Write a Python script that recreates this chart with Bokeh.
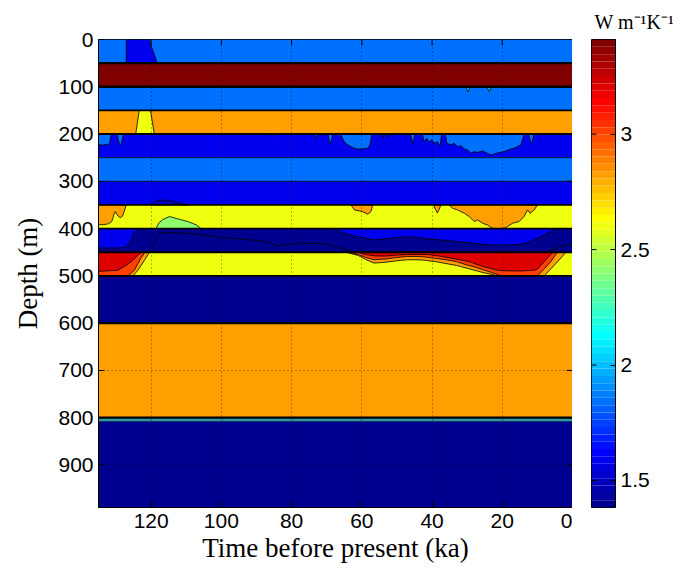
import numpy as np
from bokeh.plotting import figure
from bokeh.models import ColumnDataSource, LinearColorMapper, Range1d, FixedTicker
from bokeh.transform import transform
from bokeh.layouts import row
from bokeh.embed import file_html
from bokeh.resources import INLINE

# ---------------------------------------------------------------------------
# Thermal conductivity (W m^-1 K^-1) of the column through time
# ---------------------------------------------------------------------------
t_max = 135.0          # ka
depth_max = 990.0      # m

# layered background: depth edges and conductivity of each layer
layer_edges = [0, 50, 100, 150, 200, 250, 300, 350, 400, 450, 500, 600, 800, 990]
layer_k = [1.84, 3.40, 1.84, 2.82, 1.60, 1.84, 1.60, 2.60, 1.41, 2.60, 1.41, 2.82, 1.41]

# thin transition band at the 800 m interface
trans_top, trans_bot, trans_k = 800, 808, 2.30

# time-varying regions, outlines as (time ka, depth m)
top_pocket_k = 1.60
top_pocket = [[(127.1, 0), (120.6, 0), (118.4, 47), (118.2, 50), (127.1, 50)]]

cyan_spikes_k = 2.04
cyan_spikes = [
    [(30.3, 100), (30.0, 106), (29.7, 111), (29.4, 106), (29.1, 100)],
    [(24.3, 100), (24.0, 106), (23.7, 110), (23.4, 106), (23.1, 100)],
]

warm_bump_150_k = 2.60
warm_bump_150 = [[(123.4, 150), (120.2, 150), (119.1, 200), (124.4, 200)]]

intrusions_200_k = 1.84
intrusions_200 = [
    [(135, 200), (135, 222), (134, 223.5), (133, 222), (132.3, 224), (131.8, 218), (131.4, 200)],
    [(129.7, 200), (129.3, 214), (128.9, 222), (128.5, 221), (128.2, 210), (127.9, 200)],
    [(85.8, 200), (85.4, 205), (85.0, 200)],
    [(73.4, 200), (73.0, 211), (72.6, 200)],
    [(69.6, 200), (69.3, 214), (69.0, 220), (68.6, 212), (68.3, 200)],
    [(66.0, 200), (65.5, 209), (65.0, 216), (64.0, 223), (63.0, 227), (62.1, 230), (61.2, 231.5),
     (60.2, 231.5), (59.3, 231), (58.3, 230), (57.8, 225), (57.5, 215), (57.2, 200)],
    [(54.2, 200), (53.9, 207), (53.6, 200)],
    [(52.8, 200), (52.5, 207), (52.2, 200)],
    [(46.2, 200), (45.7, 213), (45.5, 219.5), (45.2, 213), (44.9, 200)],
    [(42.8, 200), (42.2, 216), (41.5, 209), (40.8, 217), (40.1, 212), (39.4, 219.5), (38.4, 216),
     (37.7, 226.6), (37.3, 200)],
    [(36.2, 200), (35.8, 219.5), (34.6, 223), (33.7, 219.5), (32.7, 226.6), (31.8, 224.5),
     (30.8, 231.5), (29.9, 233.7), (28.9, 240.8), (28.0, 237.2), (27.0, 238.7), (25.6, 235.8),
     (24.2, 240.8), (23.2, 244.3), (21.8, 240.8), (20.4, 238.7), (19.0, 235.8), (17.6, 231.5),
     (16.1, 228.7), (14.7, 222.2), (14.1, 208.8), (13.8, 200)],
    [(12.5, 200), (12.0, 215), (11.7, 219.5), (11.3, 212), (11.0, 200)],
]

cold_bump_300_k = 1.49
cold_bump_300 = [[(120.3, 350), (118.6, 341.5), (117.2, 339.5), (114.3, 341.5), (111.5, 346.5), (109.6, 350)]]

orange_350_k = 2.82
orange_350 = [
    [(135, 350), (135, 392), (133.5, 391.5), (132.2, 390), (131.2, 385), (130.6, 370), (130.2, 364),
     (129.6, 372), (128.8, 377), (128.2, 374), (127.7, 364), (127.1, 350)],
    [(63.1, 350), (62.1, 360.5), (60.7, 362.6), (59.8, 364), (58.3, 369.5), (57.4, 364), (56.9, 350)],
    [(39.6, 350), (39.0, 360), (38.5, 367), (38.0, 360), (37.5, 350)],
    [(35.1, 350), (34.2, 357), (32.7, 360.6), (31.8, 364), (30.8, 367.6), (29.4, 374.6), (28.0, 385),
     (27.0, 381.8), (25.6, 388.8), (24.2, 392.4), (23.2, 398), (22.3, 400), (20.4, 400), (19.0, 398),
     (17.1, 388.8), (15.2, 385), (13.8, 374.6), (12.8, 360.6), (12.1, 367.6), (10.9, 360.6), (10.0, 350)],
]

green_350_k = 2.42
green_350 = [[(118.6, 400), (117.8, 388), (116.7, 381), (114.8, 374.5), (112.4, 379.5),
              (109.6, 385), (107.2, 392), (105.8, 400)]]

blue_400_k = 1.60
blue_400 = [
    [(135, 400), (123.5, 400), (124.8, 408), (125.5, 420), (126.3, 432), (127.6, 440), (130, 441), (135, 441)],
    [(67.8, 400), (65, 410), (61.2, 417), (56.5, 424), (51.7, 420.5), (47, 417), (42.2, 420.5),
     (37.5, 424), (32.7, 427.5), (28, 431), (23.2, 434.7), (18.5, 434.7), (14.7, 433.2),
     (11.9, 427.5), (9, 417), (6.2, 406.3), (5.2, 400)],
]

orange_450_k = 2.82
orange_450 = [
    [(135, 450), (120.5, 450), (121.9, 467), (123.8, 488.3), (125.2, 500), (135, 500)],
    [(64.5, 450), (61, 457), (59, 465), (56.5, 473), (53, 471), (50, 468), (47, 466), (44, 466),
     (42, 467), (39, 470), (36, 474), (33, 478), (30, 484), (28, 488), (25.5, 493), (23, 497),
     (21.5, 500), (8.1, 500), (6, 484), (4, 468), (1.9, 450)],
]

orangered_450_k = 3.00
orangered_450 = [
    [(135, 450), (121.7, 450), (122.9, 462), (124.8, 488.3), (126.6, 500), (135, 500)],
    [(64, 450), (61, 455), (59, 461), (56.5, 466), (53, 464), (50, 461), (47, 459), (44, 459),
     (42, 460), (39, 463), (36, 466), (33, 470), (30.5, 476), (28, 481), (25.5, 487), (23, 493),
     (21, 498), (20, 500), (10, 500), (8, 485), (6, 468), (4.3, 450)],
]

red_450_k = 3.20
red_450 = [
    [(135, 450), (122.8, 450), (123.8, 456.5), (125.2, 467), (127.1, 477.7), (129.5, 488.3), (135, 490.4)],
    [(61.2, 450), (59, 455), (56, 458), (53, 458), (50, 456), (47, 455), (44, 454.5), (41, 455),
     (38, 458), (35, 462), (32, 466), (29, 471), (26, 479), (23, 485), (21, 488.5), (18, 489.5),
     (14, 489.5), (11, 488), (10, 486), (8.1, 470), (6.2, 455), (5.5, 450)],
]

# contour lines separating two close low-conductivity levels at 400-450 m
navy_line = [(120.5, 450), (119.5, 435), (118.5, 420), (117.5, 410), (115, 408), (110, 410),
             (105, 414), (100, 419), (95, 422), (90, 425), (86, 430), (84, 437), (81, 434),
             (78, 431), (74, 431), (70, 433), (67, 440), (64, 445), (62, 450)]
navy_line_east = [(8, 450), (5, 443), (2.5, 437), (0, 433)]

x_ticks = [0, 20, 40, 60, 80, 100, 120]
y_ticks = [0, 100, 200, 300, 400, 500, 600, 700, 800, 900]
cbar_low, cbar_high = 1.383, 3.41
cbar_ticks = [1.5, 2, 2.5, 3]
cbar_title = "W m\u207b\u00b9K\u207b\u00b9"


# ---------------------------------------------------------------------------
def jet(n):
    cols = []
    for i in range(n):
        x = (i + 1) / n
        r = min(max(1.5 - abs(4 * x - 3), 0), 1)
        g = min(max(1.5 - abs(4 * x - 2), 0), 1)
        b = min(max(1.5 - abs(4 * x - 1), 0), 1)
        cols.append('#%02x%02x%02x' % (round(r * 255), round(g * 255), round(b * 255)))
    return cols


mapper = LinearColorMapper(palette=jet(64), low=cbar_low, high=cbar_high)

TICK_FONT = "Liberation Sans"
LABEL_FONT = "Liberation Serif"
FRAME_W, FRAME_H = 474, 468

p = figure(frame_width=FRAME_W, frame_height=FRAME_H,
           x_range=Range1d(t_max, 0), y_range=Range1d(depth_max, 0),
           min_border_left=98, min_border_top=39, min_border_bottom=63, min_border_right=0,
           output_backend="svg", toolbar_location=None)

# background layers
layers = ColumnDataSource(dict(top=layer_edges[:-1], bottom=layer_edges[1:], k=layer_k))
p.quad(left=t_max, right=0, top='top', bottom='bottom', source=layers,
       fill_color=transform('k', mapper), line_color=None)

# transition band at 800 m
trans = ColumnDataSource(dict(top=[trans_top], bottom=[trans_bot], k=[trans_k]))
p.quad(left=t_max, right=0, top='top', bottom='bottom', source=trans,
       fill_color=transform('k', mapper), fill_alpha=0.6,
       line_color="black", line_width=0.6, line_alpha=0.5)


def add_regions(polys, k):
    xs = [[pt[0] for pt in poly] for poly in polys]
    ys = [[pt[1] for pt in poly] for poly in polys]
    src = ColumnDataSource(dict(xs=xs, ys=ys, k=[k] * len(polys)))
    p.patches('xs', 'ys', source=src, fill_color=transform('k', mapper),
              line_color="black", line_width=0.8)


for polys, k in [(top_pocket, top_pocket_k), (cyan_spikes, cyan_spikes_k),
                 (warm_bump_150, warm_bump_150_k), (intrusions_200, intrusions_200_k),
                 (cold_bump_300, cold_bump_300_k), (orange_350, orange_350_k),
                 (green_350, green_350_k), (blue_400, blue_400_k),
                 (orange_450, orange_450_k), (orangered_450, orangered_450_k),
                 (red_450, red_450_k)]:
    add_regions(polys, k)

for ln in (navy_line, navy_line_east):
    p.line([pt[0] for pt in ln], [pt[1] for pt in ln], line_color="black", line_width=0.8)

# layer interfaces: sharper contrasts stack more contour lines
edges = layer_edges[1:-1]
jumps = np.abs(np.diff(layer_k))
p.segment(x0=t_max, x1=0, y0=edges, y1=edges, line_color="black",
          line_width=list(0.5 + 1.2 * jumps))

# inward ticks on the top and right sides of the box
tick_px = 6
dt = tick_px * t_max / FRAME_W
dd = tick_px * depth_max / FRAME_H
p.segment(x0=x_ticks, x1=x_ticks, y0=0, y1=dd, line_color="black", line_width=1)
p.segment(x0=0, x1=dt, y0=y_ticks, y1=y_ticks, line_color="black", line_width=1)

# axes
p.xaxis.ticker = FixedTicker(ticks=x_ticks)
p.yaxis.ticker = FixedTicker(ticks=y_ticks)
for ax in (p.xaxis[0], p.yaxis[0]):
    ax.major_label_text_font = TICK_FONT
    ax.major_label_text_font_size = "21px"
    ax.major_label_text_color = "black"
    ax.major_tick_in = tick_px
    ax.major_tick_out = 0
    ax.minor_tick_line_color = None
    ax.axis_line_color = "black"
    ax.major_tick_line_color = "black"
    ax.axis_label_text_font = LABEL_FONT
    ax.axis_label_text_font_size = "27px"
    ax.axis_label_text_font_style = "normal"
    ax.axis_label_text_color = "black"
p.xaxis.axis_label = "Time before present (ka)"
p.yaxis.axis_label = "Depth (m)"
p.xaxis.major_label_standoff = 6
p.xaxis.axis_label_standoff = 2
p.yaxis.major_label_standoff = 5
p.yaxis.axis_label_standoff = 12

for g in (p.xgrid[0], p.ygrid[0]):
    g.grid_line_color = "black"
    g.grid_line_alpha = 0.55
    g.grid_line_dash = "1 3"
    g.level = "annotation"
p.xgrid.ticker = FixedTicker(ticks=x_ticks)
p.ygrid.ticker = FixedTicker(ticks=y_ticks)
p.outline_line_color = "black"
p.outline_line_alpha = 1
p.background_fill_color = "white"

# ---------------------------------------------------------------------------
# colour bar
cb_edges = np.linspace(cbar_low, cbar_high, 65)
cb_src = ColumnDataSource(dict(bottom=cb_edges[:-1], top=cb_edges[1:],
                               mid=(cb_edges[:-1] + cb_edges[1:]) / 2))
pc = figure(frame_width=24, frame_height=FRAME_H, x_range=Range1d(0, 1),
            y_range=Range1d(cbar_low, cbar_high),
            min_border_left=19, min_border_top=39, min_border_bottom=63, min_border_right=58,
            x_axis_location=None, y_axis_location="right",
            output_backend="svg", toolbar_location=None)
pc.quad(left=0, right=1, bottom='bottom', top='top', source=cb_src,
        fill_color=transform('mid', mapper), line_color=None)
pc.segment(x0=0, x1=5 / 24, y0=cbar_ticks, y1=cbar_ticks, line_color="black", line_width=1)
pc.grid.visible = False
pc.yaxis.ticker = FixedTicker(ticks=cbar_ticks)
pc.yaxis.major_label_text_font = TICK_FONT
pc.yaxis.major_label_text_font_size = "21px"
pc.yaxis.major_label_text_color = "black"
pc.yaxis.major_tick_in = 5
pc.yaxis.major_tick_out = 0
pc.yaxis.minor_tick_line_color = None
pc.yaxis.major_label_standoff = 5
pc.yaxis.axis_line_color = "black"
pc.outline_line_color = "black"

# units written above the colour bar
pc.title.text = cbar_title
pc.title.text_font = LABEL_FONT
pc.title.text_font_size = "20px"
pc.title.text_font_style = "normal"
pc.title.text_color = "black"
pc.title.align = "left"
pc.title.offset = 3
pc.title.standoff = 13

layout = row(p, pc)
open("out.html", "w").write(file_html(layout, INLINE))
